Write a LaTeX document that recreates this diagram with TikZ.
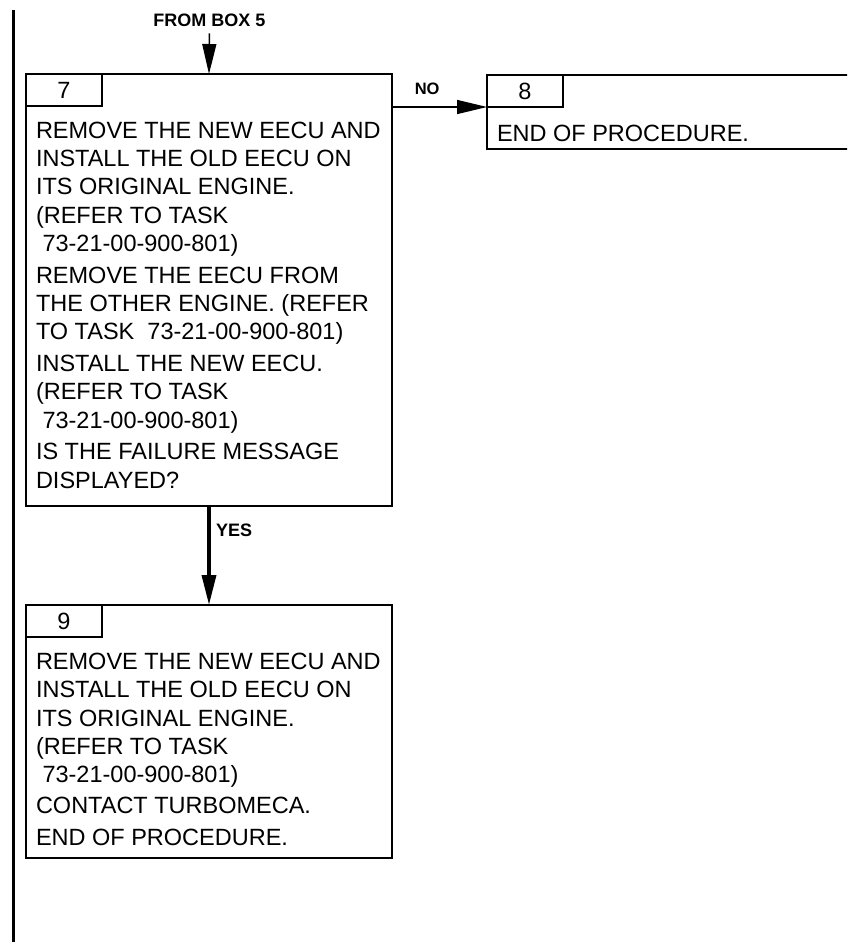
\documentclass[tikz,border=0pt]{standalone}
\usepackage{fontspec}
\setmainfont{Liberation Sans}
\usetikzlibrary{arrows.meta}
\tikzset{>={Triangle[length=30pt,width=14pt]}}
\def\boxfont{\fontsize{23.5}{28.3}\selectfont}
\def\lblfont{\fontsize{18}{20}\selectfont\bfseries}
\tikzstyle{box}=[draw,line width=1.8pt,inner sep=0,outer sep=0,anchor=north west]
\tikzstyle{tab}=[box,minimum width=76pt,minimum height=32pt,font=\boxfont]
\tikzstyle{txt}=[inner sep=0,outer sep=0,anchor=north west,align=left,font=\boxfont]
\tikzstyle{lbl}=[inner sep=0,outer sep=0,font=\lblfont]
\tikzstyle{thinflow}=[->,line width=1.5pt]
\tikzstyle{thickflow}=[->,line width=3.5pt]

\begin{document}
\begin{tikzpicture}[x=1pt,y=-1pt]
  \useasboundingbox (0,0) rectangle (847,942);
  \clip (0,0) rectangle (847,942);
  
  % CHANGE BAR
  \draw[line width=3.5pt] (13.5,10) -- (13.5,942);
  
  % BOXES
  \node[box,minimum width=366pt,minimum height=432pt] (b7) at (26,74) {};
  \node[box,minimum width=420pt,minimum height=74pt] (b8) at (487,75) {};
  \node[box,minimum width=366pt,minimum height=253pt] (b9) at (26,605) {};
  \node[tab] (t7) at (b7.north west) {7};
  \node[tab] (t8) at (b8.north west) {8};
  \node[tab] (t9) at (b9.north west) {9};
  
  % TEXTS
  \node[txt] (x7) at ([shift={(10,15.7)}]t7.south west) {REMOVE THE NEW EECU AND\\
    INSTALL THE OLD EECU ON\\
    ITS ORIGINAL ENGINE.\\
    (REFER TO TASK\\
    \ 73-21-00-900-801)\\[3.5pt]
    REMOVE THE EECU FROM\\
    THE OTHER ENGINE. (REFER\\
    TO TASK\ \ 73-21-00-900-801)\\[3.5pt]
    INSTALL THE NEW EECU.\\
    (REFER TO TASK\\
    \ 73-21-00-900-801)\\[3.5pt]
    IS THE FAILURE MESSAGE\\
    DISPLAYED?};
  \node[txt] (x8) at ([shift={(10,18)}]t8.south west) {END OF PROCEDURE.};
  \node[txt] (x9) at ([shift={(10,16)}]t9.south west) {REMOVE THE NEW EECU AND\\
    INSTALL THE OLD EECU ON\\
    ITS ORIGINAL ENGINE.\\
    (REFER TO TASK\\
    \ 73-21-00-900-801)\\[3pt]
    CONTACT TURBOMECA.\\[3pt]
    END OF PROCEDURE.};
  
  % ARROWS
  \node[lbl] (from) at (209.5,20) {FROM BOX 5};
  \draw[thinflow,shorten <=7pt] (from.south) -- (b7.north);
  \draw[thinflow] (b7.east |- t8.south) -- node[lbl,pos=0.37,above=12pt,font=\fontsize{16.5}{18}\selectfont\bfseries] (no) {NO} (t8.south west);
  \draw[thickflow] (b7.south) -- node[lbl,pos=0.25,right=7pt] (yes) {YES} (b9.north);
\end{tikzpicture}
\end{document}
